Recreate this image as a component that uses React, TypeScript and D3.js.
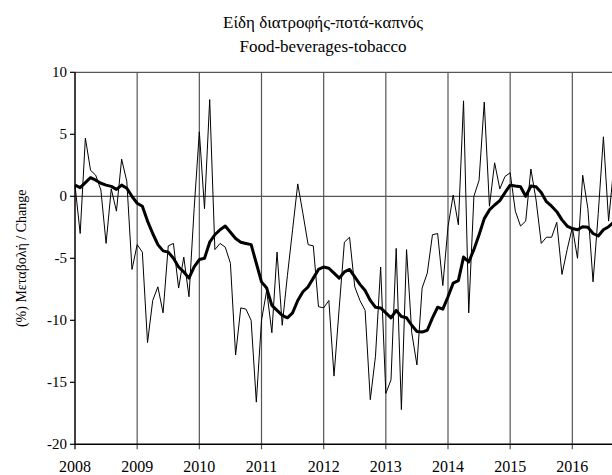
import * as React from "react";
import * as d3 from "d3";

// monthly change, Jan 2008 onwards (%)
const monthly = [
    0.9, -3.0, 4.7, 2.1, 1.7, 0.5, -3.8, 0.6, -1.2, 3.0, 1.2, -5.9,
    -3.9, -4.5, -11.8, -8.4, -7.3, -9.4, -4.0, -3.8, -7.4, -4.9, -8.1, -1.0,
    5.2, -1.0, 7.8, -4.3, -3.8, -4.1, -5.4, -12.8, -9.0, -9.1, -10.0, -16.6,
    -10.0, -7.6, -11.0, -4.5, -10.4, -6.4, -2.7, 1.0, -1.4, -3.9, -4.0, -8.9,
    -9.0, -8.4, -14.5, -9.0, -3.7, -3.3, -7.3, -8.4, -9.2, -16.4, -12.9, -5.7,
    -15.9, -14.8, -4.2, -17.2, -4.3, -11.0, -13.6, -7.4, -6.2, -3.1, -3.0, -7.2,
    -2.45, 0.1, -2.3, 7.7, -9.4, 0.0, 1.3, 7.6, -0.8, 2.7, 0.6, 1.6,
    1.9, -1.2, -2.4, -2.0, 2.2, -0.3, -3.8, -3.3, -3.3, -2.1, -6.3, -4.3,
    -2.5, -5.0, 1.7, -1.0, -6.9, -1.4, 4.8, -2.0, 2.4,
];

// smoothed trend
const trend = [
    0.9, 0.7, 1.1, 1.5, 1.3, 1.05, 0.9, 0.8, 0.56, 0.9, 0.65, 0.0,
    -0.56, -0.8, -2.0, -3.0, -3.9, -4.4, -4.5, -5.0, -5.7, -6.1, -6.6, -5.7,
    -5.1, -5.0, -3.7, -3.1, -2.7, -2.4, -2.9, -3.4, -3.7, -3.8, -3.9, -5.4,
    -6.9, -7.4, -8.8, -9.2, -9.6, -9.8, -9.4, -8.4, -7.7, -7.3, -6.6, -5.9,
    -5.7, -5.8, -6.2, -6.6, -6.1, -5.9, -6.5, -7.1, -7.6, -8.4, -8.95, -9.0,
    -9.4, -9.8, -9.2, -9.7, -9.8, -10.4, -10.9, -10.95, -10.8, -9.8, -8.95, -9.1,
    -8.1, -7.0, -6.8, -4.9, -5.3, -4.3, -3.1, -1.8, -1.1, -0.7, -0.35, 0.3,
    0.9, 0.83, 0.77, 0.0, 0.83, 0.77, 0.3, -0.43, -0.8, -1.24, -1.9, -2.4,
    -2.6, -2.7, -2.45, -2.5, -3.0, -3.2, -2.7, -2.45, -2.1,
];

const years = ["2008", "2009", "2010", "2011", "2012", "2013", "2014", "2015", "2016"];
const yTicks = [-20, -15, -10, -5, 0, 5, 10];

const titleGr = "Είδη διατροφής-ποτά-καπνός";
const titleEn = "Food-beverages-tobacco";
const yLabel = "(%) Μεταβολή / Change";

export default function App() {
    const width = 612;
    const height = 475;
    const font = "'Liberation Serif', 'DejaVu Serif', serif";

    var x = d3.scaleLinear().domain([0, 108]).range([75, 634.5]);
    var y = d3.scaleLinear().domain([-20, 10]).range([444.3, 72.3]);

    const lineGenerator = d3.line<number>()
        .x((_d, i) => x(i))
        .y(d => y(d));

    const gridColor = "#555";

    // vertical year lines, running on past the visible edge
    const grid = d3.range(1, 10).map(i =>
        <line key={i} x1={x(i * 12)} x2={x(i * 12)} y1={y(10)} y2={y(-20) + 5}
            stroke={gridColor} strokeWidth={1.2} />);

    const xLabels = years.map((yr, i) =>
        <text key={yr} x={x(i * 12)} y={472} textAnchor="middle" fontSize={16}>{yr}</text>);

    const yAxis = yTicks.map(t =>
        <g key={t}>
            <line x1={x(0) - 5} x2={x(0)} y1={y(t)} y2={y(t)} stroke="#000" strokeWidth={1.2} />
            <text x={x(0) - 8} y={y(t) + 5} textAnchor="end" fontSize={15}>{t}</text>
        </g>);

    return <svg width={width} height={height} style={{ position: "absolute", left: 0, top: 0, background: "#fff" }}
        fontFamily={font} fill="#000">
        <text x={323} y={28} textAnchor="middle" fontSize={17}>{titleGr}</text>
        <text x={323} y={52} textAnchor="middle" fontSize={17}>{titleEn}</text>
        <text transform={`translate(26,${(y(10) + y(-20)) / 2}) rotate(-90)`} textAnchor="middle" fontSize={14}>{yLabel}</text>

        <line x1={x(0)} x2={x(108)} y1={y(10)} y2={y(10)} stroke={gridColor} strokeWidth={1.2} />
        <line x1={x(0)} x2={x(108)} y1={y(0)} y2={y(0)} stroke={gridColor} strokeWidth={1.2} />
        {grid}

        <path d={lineGenerator(monthly) || ""} fill="none" stroke="#000" strokeWidth={1} strokeLinejoin="miter" />
        <path d={lineGenerator(trend) || ""} fill="none" stroke="#000" strokeWidth={3} strokeLinejoin="round" />

        <line x1={x(0)} x2={x(0)} y1={y(10)} y2={y(-20)} stroke="#000" strokeWidth={1.5} />
        <line x1={x(0)} x2={x(108)} y1={y(-20)} y2={y(-20)} stroke="#000" strokeWidth={1.5} />
        <line x1={x(0)} x2={x(0)} y1={y(-20)} y2={y(-20) + 5} stroke="#000" strokeWidth={1.2} />
        {yAxis}
        {xLabels}
    </svg>;
}
